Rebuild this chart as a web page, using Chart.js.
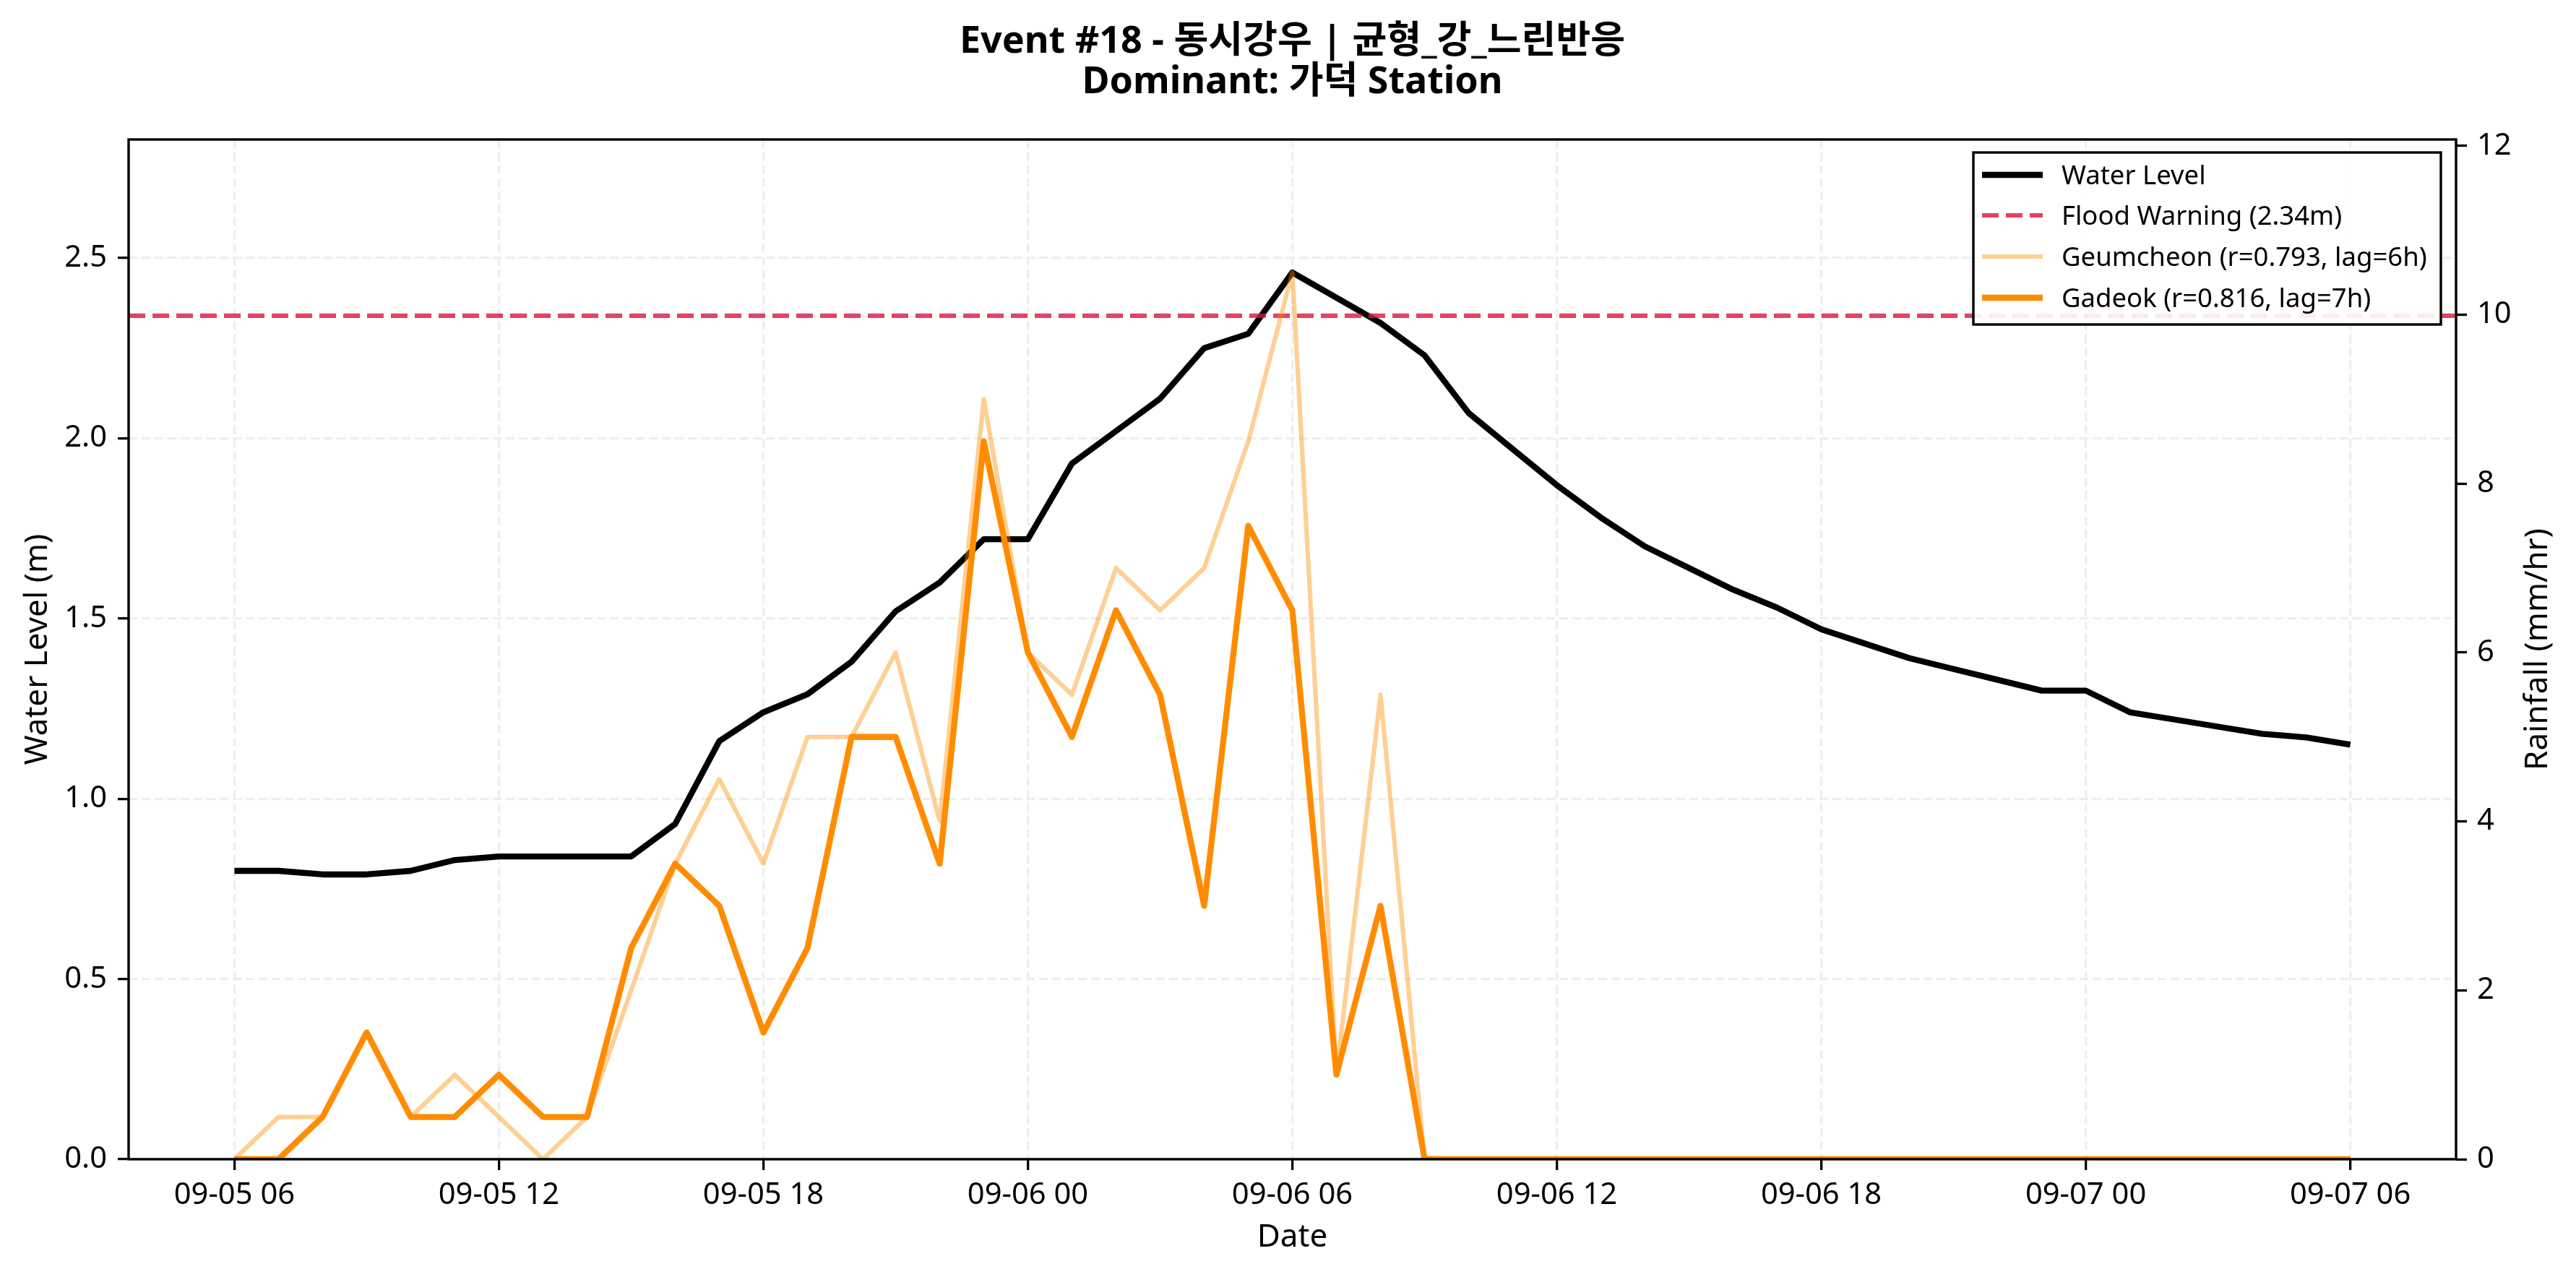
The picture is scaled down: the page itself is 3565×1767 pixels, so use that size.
<!DOCTYPE html>
<html>
<head>
<meta charset="utf-8">
<script src="https://cdn.jsdelivr.net/npm/chart.js@4.4.1/dist/chart.umd.min.js"></script>
<style>
  html, body { margin: 0; padding: 0; background: #ffffff; }
  #wrap { width: 3565px; height: 1767px; }
  canvas { display: block; }
</style>
</head>
<body>
<div id="wrap"><canvas id="chart" width="3565" height="1767"></canvas></div>
<script>
// ---------------- DATA ----------------
const titleLines = ['Event #18 - 동시강우 | 균형_강_느린반응', 'Dominant: 가덕 Station'];

const times = [
  '09-05 06:00','09-05 07:00','09-05 08:00','09-05 09:00','09-05 10:00','09-05 11:00',
  '09-05 12:00','09-05 13:00','09-05 14:00','09-05 15:00','09-05 16:00','09-05 17:00',
  '09-05 18:00','09-05 19:00','09-05 20:00','09-05 21:00','09-05 22:00','09-05 23:00',
  '09-06 00:00','09-06 01:00','09-06 02:00','09-06 03:00','09-06 04:00','09-06 05:00',
  '09-06 06:00','09-06 07:00','09-06 08:00','09-06 09:00','09-06 10:00','09-06 11:00',
  '09-06 12:00','09-06 13:00','09-06 14:00','09-06 15:00','09-06 16:00','09-06 17:00',
  '09-06 18:00','09-06 19:00','09-06 20:00','09-06 21:00','09-06 22:00','09-06 23:00',
  '09-07 00:00','09-07 01:00','09-07 02:00','09-07 03:00','09-07 04:00','09-07 05:00',
  '09-07 06:00'
];

const waterLevel = [
  0.80, 0.80, 0.79, 0.79, 0.80, 0.83,
  0.84, 0.84, 0.84, 0.84, 0.93, 1.16,
  1.24, 1.29, 1.38, 1.52, 1.60, 1.72,
  1.72, 1.93, 2.02, 2.11, 2.25, 2.29,
  2.46, 2.39, 2.32, 2.23, 2.07, 1.97,
  1.87, 1.78, 1.70, 1.64, 1.58, 1.53,
  1.47, 1.43, 1.39, 1.36, 1.33, 1.30,
  1.30, 1.24, 1.22, 1.20, 1.18, 1.17,
  1.15
];

const geumcheonRain = [
  0, 0.5, 0.5, 1.5, 0.5, 1.0,
  0.5, 0, 0.5, 2.0, 3.5, 4.5,
  3.5, 5.0, 5.0, 6.0, 4.0, 9.0,
  6.0, 5.5, 7.0, 6.5, 7.0, 8.5,
  10.5, 1.0, 5.5, 0, 0, 0,
  0, 0, 0, 0, 0, 0,
  0, 0, 0, 0, 0, 0,
  0, 0, 0, 0, 0, 0,
  0
];

const gadeokRain = [
  0, 0, 0.5, 1.5, 0.5, 0.5,
  1.0, 0.5, 0.5, 2.5, 3.5, 3.0,
  1.5, 2.5, 5.0, 5.0, 3.5, 8.5,
  6.0, 5.0, 6.5, 5.5, 3.0, 7.5,
  6.5, 1.0, 3.0, 0, 0, 0,
  0, 0, 0, 0, 0, 0,
  0, 0, 0, 0, 0, 0,
  0, 0, 0, 0, 0, 0,
  0
];

const floodWarning = 2.34;

const seriesLabels = [
  'Water Level',
  'Flood Warning (2.34m)',
  'Geumcheon (r=0.793, lag=6h)',
  'Gadeok (r=0.816, lag=7h)'
];

const xTickLabels = ['09-05 06','09-05 12','09-05 18','09-06 00','09-06 06','09-06 12','09-06 18','09-07 00','09-07 06'];
const xTickTimes  = ['09-05 06:00','09-05 12:00','09-05 18:00','09-06 00:00','09-06 06:00','09-06 12:00','09-06 18:00','09-07 00:00','09-07 06:00'];
const yLeftTicks  = [0, 0.5, 1.0, 1.5, 2.0, 2.5];
const yRightTicks = [0, 2, 4, 6, 8, 10, 12];

const axisTitles = { x: 'Date', yLeft: 'Water Level (m)', yRight: 'Rainfall (mm/hr)' };

// axis limits
const xMin = -2.4, xMax = 50.4;
const yLeftMax = 2.829, yRightMax = 12.075;

// ---------------- BUILD ----------------
const FONT = "'Noto Sans', 'Noto Sans CJK KR', sans-serif";
const toXY = arr => arr.map((v, i) => ({ x: i, y: v }));
const xTickPos = xTickTimes.map(t => times.indexOf(t));

const datasets = [
  { label: seriesLabels[0], data: toXY(waterLevel), yAxisID: 'y', borderColor: '#000000', borderWidth: 8.3, order: 4 },
  { label: seriesLabels[1], data: [{ x: xMin, y: floodWarning }, { x: xMax, y: floodWarning }], yAxisID: 'y',
    borderColor: 'rgba(220,20,60,0.8)', borderWidth: 6.2, borderDash: [23, 10], order: 3 },
  { label: seriesLabels[2], data: toXY(geumcheonRain), yAxisID: 'y2', borderColor: 'rgba(255,140,0,0.42)', borderWidth: 6.2, order: 2 },
  { label: seriesLabels[3], data: toXY(gadeokRain), yAxisID: 'y2', borderColor: '#FF8C00', borderWidth: 8.3, order: 1 }
];
datasets.forEach(d => {
  d.pointRadius = 0; d.pointHoverRadius = 0; d.tension = 0; d.fill = false;
  d.borderJoinStyle = 'round'; d.borderCapStyle = 'butt'; d.backgroundColor = d.borderColor;
});

const gridColor = '#eeeeee';
const tickFont = { family: FONT, size: 41.7 };

const overlay = {
  id: 'overlay',
  afterDatasetsDraw(chart) {
    const { ctx, chartArea: a } = chart;
    ctx.save();
    ctx.strokeStyle = '#000';
    ctx.lineWidth = 3.4;
    ctx.setLineDash([]);
    ctx.strokeRect(a.left, a.top, a.right - a.left, a.bottom - a.top);
    ctx.restore();
  },
  afterDraw(chart) {
    const { ctx, chartArea: a } = chart;
    const cx = (a.left + a.right) / 2;
    const cy = (a.top + a.bottom) / 2;
    ctx.save();
    ctx.fillStyle = '#000';
    // title
    ctx.font = `bold 52px ${FONT}`;
    ctx.textAlign = 'center';
    ctx.textBaseline = 'middle';
    ctx.fillText(titleLines[0], cx, 58);
    ctx.fillText(titleLines[1], cx, 114);
    // axis titles
    ctx.font = `44px ${FONT}`;
    ctx.fillText(axisTitles.x, cx, 1712);
    ctx.save();
    ctx.translate(52, cy);
    ctx.rotate(-Math.PI / 2);
    ctx.fillText(axisTitles.yLeft, 0, 0);
    ctx.restore();
    ctx.save();
    ctx.translate(3512, cy);
    ctx.rotate(-Math.PI / 2);
    ctx.fillText(axisTitles.yRight, 0, 0);
    ctx.restore();
    // legend
    const bx = 2731, by = 211, bw = 647, bh = 238;
    ctx.fillStyle = 'rgba(255,255,255,0.9)';
    ctx.fillRect(bx, by, bw, bh);
    ctx.strokeStyle = '#000';
    ctx.lineWidth = 3.4;
    ctx.strokeRect(bx, by, bw, bh);
    const rows = [242, 298, 355, 412];
    ctx.font = `36.5px ${FONT}`;
    ctx.textAlign = 'left';
    ctx.textBaseline = 'alphabetic';
    chart.data.datasets.forEach((d, i) => {
      const y = rows[i];
      ctx.save();
      ctx.strokeStyle = d.borderColor;
      ctx.lineWidth = d.borderWidth;
      ctx.setLineDash(d.borderDash || []);
      ctx.lineCap = 'butt';
      ctx.beginPath();
      ctx.moveTo(2743, y);
      ctx.lineTo(2827, y);
      ctx.stroke();
      ctx.restore();
      ctx.fillStyle = '#000';
      ctx.fillText(d.label, 2853, y + 13);
    });
    ctx.restore();
  }
};

new Chart(document.getElementById('chart'), {
  type: 'line',
  data: { datasets },
  options: {
    responsive: false,
    animation: false,
    devicePixelRatio: 1,
    events: [],
    layout: { padding: { top: 193, left: 0, right: 0, bottom: 0 } },
    plugins: { legend: { display: false }, title: { display: false }, tooltip: { enabled: false } },
    scales: {
      x: {
        type: 'linear', min: xMin, max: xMax, bounds: 'data',
        afterBuildTicks: s => { s.ticks = xTickPos.map(v => ({ value: v })); },
        afterFit: s => { s.height = 163; },
        ticks: { autoSkip: false, maxRotation: 0, minRotation: 0, color: '#000', font: tickFont, padding: 10,
          callback: v => xTickLabels[xTickPos.indexOf(v)] },
        grid: { color: gridColor, lineWidth: 3.3, drawTicks: true, tickLength: 15, tickWidth: 3.3, tickColor: '#000', tickBorderDash: [] },
        border: { display: false, dash: [12, 6] }
      },
      y: {
        type: 'linear', position: 'left', min: 0, max: yLeftMax, bounds: 'data',
        afterBuildTicks: s => { s.ticks = yLeftTicks.map(v => ({ value: v })); },
        afterFit: s => { s.width = 178; },
        ticks: { color: '#000', font: tickFont, padding: 15, callback: v => v.toFixed(1) },
        grid: { color: gridColor, lineWidth: 3.3, drawTicks: true, tickLength: 15, tickWidth: 3.3, tickColor: '#000', tickBorderDash: [] },
        border: { display: false, dash: [12, 6] }
      },
      y2: {
        type: 'linear', position: 'right', min: 0, max: yRightMax, bounds: 'data',
        afterBuildTicks: s => { s.ticks = yRightTicks.map(v => ({ value: v })); },
        afterFit: s => { s.width = 166; },
        ticks: { color: '#000', font: tickFont, padding: 14, callback: v => String(v) },
        grid: { drawOnChartArea: false, drawTicks: true, tickLength: 15, tickWidth: 3.3, tickColor: '#000', color: '#000' },
        border: { display: false }
      }
    }
  },
  plugins: [overlay]
});
</script>
</body>
</html>
